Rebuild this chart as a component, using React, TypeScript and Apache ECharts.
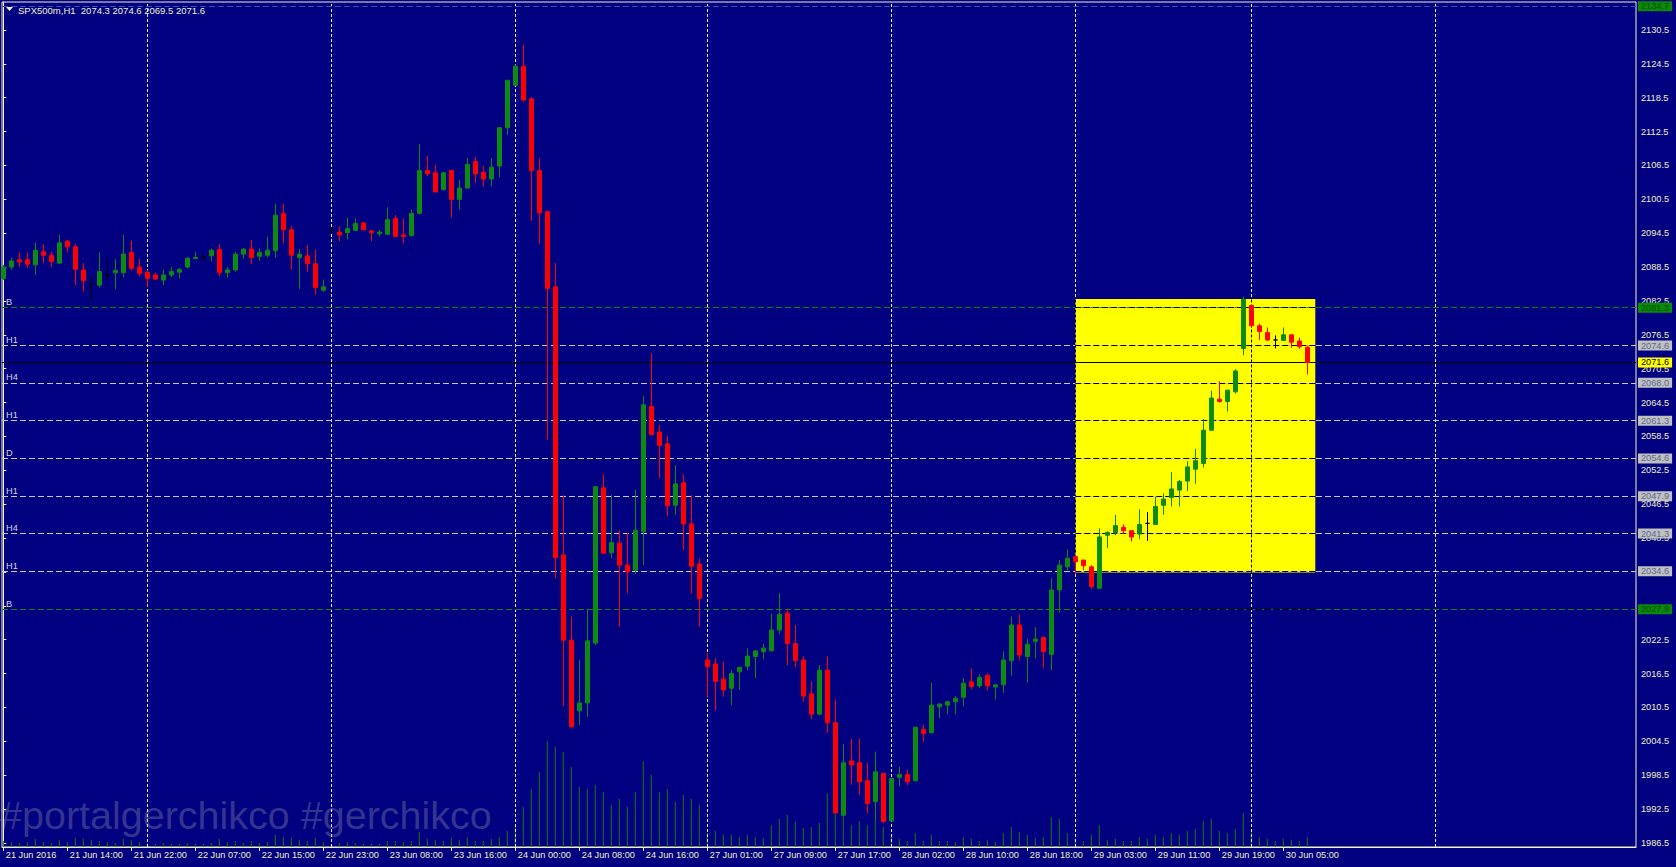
import React, { useEffect, useRef } from 'react';
import * as echarts from 'echarts';

// [open, high, low, close] per H1 bar
const candles: number[][] = [
  [2086.5, 2088.9, 2086.2, 2088.5], [2088.5, 2090.2, 2088.0, 2089.6], [2089.8, 2091.1, 2088.5, 2089.4], [2089.8, 2091.1, 2088.3, 2089.0],
  [2088.9, 2092.8, 2087.1, 2091.5], [2091.2, 2092.6, 2089.2, 2090.6], [2090.6, 2091.2, 2088.5, 2089.5], [2089.2, 2094.2, 2089.2, 2092.8],
  [2093.1, 2093.3, 2091.1, 2092.1], [2092.1, 2092.6, 2085.3, 2088.1], [2088.0, 2089.2, 2084.2, 2086.1], [2085.5, 2086.8, 2082.5, 2085.5],
  [2085.3, 2091.1, 2084.9, 2087.7], [2087.1, 2090.3, 2086.2, 2087.1], [2087.5, 2089.9, 2084.6, 2087.9], [2087.5, 2094.2, 2086.7, 2090.8],
  [2091.1, 2093.2, 2087.9, 2088.3], [2088.5, 2090.0, 2086.8, 2087.4], [2087.6, 2088.0, 2085.0, 2086.5], [2087.1, 2087.5, 2086.2, 2086.4],
  [2086.2, 2088.1, 2085.3, 2087.1], [2087.1, 2088.5, 2086.7, 2087.7], [2087.6, 2088.3, 2086.5, 2088.1], [2088.5, 2090.2, 2088.3, 2090.1],
  [2090.0, 2091.2, 2089.9, 2090.2], [2090.2, 2090.8, 2089.5, 2090.2], [2090.5, 2091.8, 2089.5, 2091.5], [2091.6, 2092.6, 2086.9, 2087.5],
  [2087.5, 2088.5, 2086.6, 2088.0], [2088.0, 2091.2, 2087.7, 2090.8], [2090.8, 2091.8, 2090.0, 2091.7], [2091.7, 2093.3, 2089.0, 2090.2],
  [2090.4, 2091.8, 2089.6, 2091.1], [2090.6, 2093.9, 2090.2, 2091.5], [2091.4, 2099.7, 2090.2, 2097.7], [2098.0, 2099.7, 2092.7, 2095.1],
  [2095.1, 2095.8, 2088.0, 2090.6], [2090.2, 2091.7, 2084.6, 2090.8], [2090.5, 2092.4, 2087.7, 2089.1], [2089.1, 2091.6, 2083.6, 2084.9],
  [2084.4, 2086.3, 2084.1, 2085.0], [2095.1, 2095.6, 2094.5, 2095.1], [2094.7, 2095.7, 2093.1, 2094.2], [2094.6, 2097.2, 2093.4, 2095.3],
  [2095.0, 2097.1, 2094.9, 2096.2], [2096.3, 2096.5, 2095.0, 2095.1], [2094.9, 2095.1, 2093.1, 2094.6], [2094.4, 2095.1, 2093.9, 2094.7],
  [2094.3, 2099.1, 2094.3, 2096.9], [2097.1, 2097.7, 2093.8, 2093.9], [2094.2, 2097.1, 2092.7, 2093.9], [2094.1, 2098.7, 2093.9, 2098.0],
  [2098.0, 2110.3, 2098.0, 2105.6], [2105.6, 2108.2, 2104.6, 2105.0], [2105.2, 2106.6, 2101.8, 2101.8], [2102.2, 2105.4, 2102.2, 2105.2],
  [2105.6, 2105.6, 2097.3, 2100.5], [2100.5, 2104.0, 2098.7, 2102.5], [2102.5, 2107.8, 2102.5, 2106.7], [2107.2, 2108.0, 2103.4, 2105.0],
  [2105.3, 2106.4, 2102.8, 2104.1], [2104.1, 2107.8, 2102.8, 2106.2], [2106.4, 2113.2, 2104.4, 2113.2], [2113.2, 2121.6, 2111.9, 2121.6],
  [2120.7, 2124.4, 2120.7, 2124.1], [2124.1, 2127.9, 2117.8, 2118.1], [2118.3, 2118.6, 2096.7, 2105.6], [2105.6, 2107.8, 2092.6, 2098.1],
  [2098.3, 2098.5, 2057.9, 2084.7], [2085.0, 2089.2, 2033.4, 2037.0], [2037.5, 2048.1, 2010.7, 2022.4], [2022.4, 2026.6, 2006.8, 2007.1],
  [2009.9, 2018.9, 2007.4, 2011.3], [2011.3, 2028.0, 2008.8, 2022.3], [2021.9, 2049.6, 2021.5, 2049.6], [2049.4, 2051.8, 2037.8, 2037.8],
  [2037.9, 2048.1, 2036.9, 2039.7], [2039.6, 2041.9, 2024.8, 2035.7], [2035.7, 2041.4, 2030.7, 2034.5], [2034.8, 2049.1, 2034.1, 2041.9],
  [2041.6, 2065.7, 2035.7, 2064.1], [2063.8, 2073.2, 2058.8, 2058.8], [2059.3, 2060.5, 2051.1, 2056.9], [2057.2, 2058.6, 2044.4, 2046.2],
  [2046.3, 2053.4, 2044.6, 2050.1], [2050.3, 2051.8, 2038.4, 2043.0], [2043.0, 2048.1, 2030.7, 2035.5], [2035.9, 2036.9, 2024.8, 2029.8],
  [2018.9, 2020.1, 2012.4, 2017.7], [2018.2, 2019.2, 2010.0, 2015.1], [2015.5, 2018.6, 2012.4, 2013.6], [2013.9, 2017.1, 2010.9, 2016.5],
  [2016.8, 2017.7, 2013.6, 2017.6], [2017.8, 2021.0, 2017.1, 2019.6], [2019.5, 2020.7, 2015.7, 2020.5], [2020.4, 2021.8, 2019.0, 2021.0],
  [2020.5, 2027.1, 2020.5, 2024.2], [2024.2, 2030.7, 2023.5, 2027.0], [2027.2, 2028.0, 2018.0, 2021.8], [2021.8, 2025.1, 2017.6, 2018.8],
  [2018.9, 2019.6, 2011.5, 2012.5], [2012.9, 2015.1, 2008.4, 2009.3], [2009.3, 2018.0, 2009.1, 2017.1], [2017.1, 2019.5, 2006.0, 2007.8],
  [2007.8, 2011.9, 1991.8, 1991.8], [1991.4, 2004.0, 1991.3, 2000.7], [2001.0, 2005.0, 1996.8, 2000.3], [2000.7, 2005.0, 1995.0, 1997.3],
  [1997.5, 2000.7, 1991.7, 1993.5], [1993.8, 2002.7, 1990.6, 1999.1], [1998.8, 1998.9, 1990.0, 1990.3], [1990.4, 1998.1, 1990.3, 1997.9],
  [1998.1, 2000.0, 1996.5, 1998.6], [1998.6, 1999.4, 1996.7, 1997.3], [1997.5, 2007.0, 1997.5, 2007.0], [2006.6, 2007.4, 2004.4, 2005.9],
  [2006.0, 2014.9, 2006.0, 2010.9], [2010.6, 2011.2, 2008.6, 2011.1], [2010.9, 2011.7, 2009.3, 2011.5], [2011.5, 2012.5, 2009.3, 2012.1],
  [2012.3, 2015.7, 2010.7, 2014.8], [2015.0, 2017.4, 2013.7, 2014.2], [2014.3, 2016.4, 2013.9, 2015.8], [2016.2, 2016.5, 2013.5, 2014.3],
  [2014.1, 2014.6, 2011.9, 2014.5], [2014.5, 2020.4, 2013.1, 2018.9], [2018.8, 2026.6, 2016.1, 2025.1], [2025.1, 2027.0, 2018.8, 2019.8],
  [2019.5, 2022.6, 2014.9, 2021.7], [2022.2, 2024.7, 2019.2, 2022.6], [2022.9, 2023.1, 2017.4, 2020.4], [2019.9, 2033.4, 2017.1, 2031.3],
  [2031.3, 2036.6, 2027.3, 2035.7], [2035.4, 2038.5, 2034.8, 2036.9], [2037.2, 2037.5, 2034.1, 2036.3], [2036.6, 2036.6, 2034.8, 2035.6],
  [2035.4, 2035.7, 2031.5, 2031.9], [2031.6, 2042.2, 2031.6, 2040.7], [2041.0, 2041.7, 2038.7, 2041.5], [2041.5, 2044.6, 2041.0, 2042.7],
  [2042.4, 2042.9, 2041.2, 2041.8], [2041.8, 2041.9, 2039.9, 2040.7], [2041.2, 2045.6, 2040.3, 2042.9], [2043.1, 2045.1, 2040.0, 2043.1],
  [2042.9, 2047.8, 2042.8, 2046.1], [2046.3, 2048.4, 2044.6, 2047.4], [2047.7, 2052.2, 2046.1, 2049.2], [2049.0, 2050.8, 2046.1, 2050.5],
  [2050.6, 2054.1, 2048.8, 2053.1], [2052.7, 2056.3, 2050.1, 2054.2], [2053.7, 2061.6, 2053.0, 2059.6], [2059.6, 2066.6, 2059.5, 2065.3],
  [2065.1, 2068.3, 2064.5, 2064.7], [2064.7, 2066.7, 2062.9, 2066.7], [2066.4, 2070.4, 2066.1, 2070.1], [2074.1, 2083.3, 2072.9, 2082.8],
  [2081.7, 2081.8, 2077.7, 2078.1], [2078.1, 2078.5, 2075.6, 2077.1], [2076.9, 2077.8, 2075.4, 2075.6], [2075.6, 2076.4, 2074.1, 2075.6],
  [2075.5, 2077.8, 2075.5, 2076.5], [2076.5, 2076.6, 2074.2, 2075.2], [2075.4, 2076.0, 2074.0, 2074.4], [2074.3, 2074.6, 2069.5, 2071.6],
];

// tick volumes (relative units)
const volumes: number[] = [
  6, 5, 4, 5, 8, 5, 4, 7, 5, 9, 8, 7, 6, 5, 4, 8, 7, 5, 4, 3, 4, 3, 3, 4, 3, 3, 4, 8, 5, 6, 4, 6, 4, 5, 12, 10, 9, 7, 6, 9, 5,
  3, 4, 5, 4, 3, 3, 3, 6, 6, 5, 6, 15, 8, 7, 6, 9, 7, 10, 6, 6, 8,
  10, 16, 22, 40, 58, 75, 106, 100, 95, 80, 60, 58, 62, 55, 42, 48, 40, 55, 86, 72, 55, 58, 45, 52, 48, 42,
  14, 16, 12, 12, 10, 12, 10, 9, 22, 28, 32, 25, 19, 20, 24, 54, 60, 36, 22, 26, 22, 28, 20,
  12, 8, 6, 14, 6, 12, 6, 6, 5, 10, 8, 6, 7, 5, 14, 20, 15, 12, 9, 10, 30, 28, 14,
  8, 6, 12, 22, 7, 8, 6, 6, 10, 8, 12, 10, 14, 12, 16, 18, 26, 28, 16, 14, 18, 34, 16, 10, 8, 6, 8, 7, 6, 10,
];

const timeTickLabels: string[] = [
  '21 Jun 2016', '21 Jun 14:00', '21 Jun 22:00', '22 Jun 07:00', '22 Jun 15:00', '22 Jun 23:00', '23 Jun 08:00',
  '23 Jun 16:00', '24 Jun 00:00', '24 Jun 08:00', '24 Jun 16:00', '27 Jun 01:00', '27 Jun 09:00', '27 Jun 17:00',
  '28 Jun 02:00', '28 Jun 10:00', '28 Jun 18:00', '29 Jun 03:00', '29 Jun 11:00', '29 Jun 19:00', '30 Jun 05:00',
];
const barsPerTimeTick = 8;

const priceTicks: number[] = [
  1986.5, 1992.5, 1998.5, 2004.5, 2010.5, 2016.5, 2022.5, 2028.5, 2034.5, 2040.5, 2046.5, 2052.5, 2058.5,
  2064.5, 2070.5, 2076.5, 2082.5, 2088.5, 2094.5, 2100.5, 2106.5, 2112.5, 2118.5, 2124.5, 2130.5,
];
// tick labels that are fully covered by level boxes in the reference
const hiddenPriceLabels: number[] = [2028.5, 2034.5];

const levelPrices: number[] = [2081.3, 2074.6, 2068.0, 2061.3, 2054.6, 2047.9, 2041.3, 2034.6, 2027.9];
const levelNames: string[] = ['B', 'H1', 'H4', 'H1', 'D', 'H1', 'H4', 'H1', 'B'];
const dayBreakBars: number[] = [18, 41, 64, 88, 111, 134, 156, 179];
const boxBars: number[] = [134, 164];
const boxPrices: number[] = [2034.4, 2082.85];
const lastPrice = 2071.6;
const topMarkPrice = 2134.7;
const headerText = 'SPX500m,H1  2074.3 2074.6 2069.5 2071.6';
const watermark = '#portalgerchikco #gerchikco';

const BG = '#000080';
const FG = '#F2F2C8';
const BULL = '#0C8A12';
const BEAR = '#FF0000';
const VOL = '#0A7E0A';
const LEVEL = '#C8C8D8';
const LEVEL_B = '#0A8A0A';
const GRIDV = '#E6E6E6';
const FONT = '"Liberation Sans", Arial, sans-serif';

const X_MIN = -0.1625;
const X_MAX = X_MIN + 1634 / 8;
const Y_MIN = 1985.77;
const Y_MAX = 2135.46;

export default function App() {
  const ref = useRef<HTMLDivElement>(null);

  useEffect(() => {
    if (!ref.current) return;
    const chart = echarts.init(ref.current, null, { renderer: 'svg' });

    const candleData = candles.map((c, i) => {
      const [o, h, l, cl] = c;
      const item: any = { value: [i, o, cl, l, h] };
      if (o === cl) {
        item.itemStyle = { color: '#000000', color0: '#000000', borderColor: '#000000', borderColor0: '#000000' };
      }
      return item;
    });
    const volData = volumes.map((v, i) => [i, v]);

    const isB = (n: string) => n === 'B';

    const levelLines: any[] = [];
    levelPrices.forEach((p, k) => {
      const b = isB(levelNames[k]);
      levelLines.push({
        yAxis: p,
        lineStyle: { color: b ? LEVEL_B : LEVEL, type: [6, 3], width: 1 },
        label: {
          show: true, position: 'end', distance: 2, formatter: p.toFixed(1),
          backgroundColor: b ? '#0A8A0A' : '#C0C0C0', color: b ? '#064F06' : '#5A6894',
          padding: [1, 3, 0, 3], fontSize: 9.2, fontFamily: FONT,
        },
      });
      levelLines.push({
        yAxis: p,
        lineStyle: { color: 'rgba(0,0,0,0)', width: 1 },
        label: {
          show: true, position: 'insideStartTop', distance: [4, 1], formatter: levelNames[k],
          color: '#D8D8D8', fontSize: 9.2, fontFamily: FONT, opacity: 1,
        },
      });
      levelLines.push([
        { coord: [boxBars[0], p], lineStyle: { color: '#000000', type: [6, 3], width: 1 }, label: { show: false } },
        { coord: [boxBars[1], p] },
      ]);
    });
    levelLines.push({
      yAxis: topMarkPrice,
      lineStyle: { color: '#3050B0', type: [6, 3], width: 1 },
      label: {
        show: true, position: 'end', distance: 2, formatter: topMarkPrice.toFixed(1),
        backgroundColor: '#0A8A0A', color: '#064F06', padding: [1, 3, 0, 3], fontSize: 9.2, fontFamily: FONT,
      },
    });
    levelLines.push({
      yAxis: lastPrice,
      lineStyle: { color: '#000000', type: 'solid', width: 1 },
      label: {
        show: true, position: 'end', distance: 2, formatter: lastPrice.toFixed(1),
        backgroundColor: '#FFFF00', color: '#000000', padding: [1, 3, 0, 3], fontSize: 9.2, fontFamily: FONT,
      },
    });

    const gridLines: any[] = [];
    dayBreakBars.forEach((b) => {
      gridLines.push({ xAxis: b, lineStyle: { color: GRIDV, type: [3, 2], width: 1 }, label: { show: false } });
      if (b >= boxBars[0] && b <= boxBars[1]) {
        gridLines.push([
          { coord: [b, boxPrices[0]], lineStyle: { color: '#000000', type: [3, 2], width: 1 }, label: { show: false } },
          { coord: [b, boxPrices[1]] },
        ]);
      }
    });

    const option: any = {
      animation: false,
      backgroundColor: BG,
      textStyle: { fontFamily: FONT },
      grid: [{
        left: 2, top: 2, width: 1634, height: 845, show: true,
        borderColor: FG, borderWidth: 1, backgroundColor: 'transparent',
      }],
      xAxis: [{
        type: 'value', min: X_MIN, max: X_MAX,
        axisLine: { show: true, lineStyle: { color: FG } },
        splitLine: { show: false },
        axisTick: {
          show: true, length: 4,
          customValues: timeTickLabels.map((_, k) => k * barsPerTimeTick),
          lineStyle: { color: FG },
        },
        axisLabel: {
          show: true, margin: 3, align: 'left', color: FG, fontSize: 9.2, fontFamily: FONT,
          customValues: timeTickLabels.map((_, k) => k * barsPerTimeTick),
          formatter: (v: number) => ' ' + (timeTickLabels[Math.round(v / barsPerTimeTick)] ?? ''),
        },
      }],
      yAxis: [{
        type: 'value', position: 'right', min: Y_MIN, max: Y_MAX,
        axisLine: { show: true, lineStyle: { color: FG } },
        splitLine: { show: false },
        axisTick: { show: true, length: 3, customValues: priceTicks, lineStyle: { color: FG } },
        axisLabel: {
          show: true, margin: 5, color: FG, fontSize: 9.2, fontFamily: FONT,
          customValues: priceTicks.filter((v) => !hiddenPriceLabels.includes(v)),
          formatter: (v: number) => v.toFixed(1),
        },
      }, {
        type: 'value', min: 0, max: 845, show: false,
      }],
      series: [
        {
          type: 'line', data: [], z: 1, silent: true,
          markArea: {
            silent: true,
            itemStyle: { color: '#FFFF00', opacity: 1 },
            data: [[{ coord: [boxBars[0], boxPrices[1]] }, { coord: [boxBars[1], boxPrices[0]] }]],
          },
        },
        {
          type: 'line', data: [], z: 2, silent: true,
          markLine: { silent: true, symbol: ['none', 'none'], animation: false, data: gridLines },
        },
        {
          type: 'bar', data: volData, yAxisIndex: 1, barWidth: 1, z: 3, silent: true,
          itemStyle: { color: VOL },
        },
        {
          type: 'line', data: [], z: 4, silent: true,
          markLine: { silent: true, symbol: ['none', 'none'], animation: false, data: levelLines },
        },
        {
          type: 'candlestick', data: candleData, z: 5, barWidth: 4, silent: true,
          encode: { x: 0, y: [1, 2, 3, 4] },
          itemStyle: { color: BULL, color0: BEAR, borderColor: BULL, borderColor0: BEAR, borderWidth: 1 },
        },
      ],
      graphic: [
        {
          type: 'polygon', z: 100,
          shape: { points: [[6, 7], [13, 7], [9.5, 11]] },
          style: { fill: FG },
        },
        {
          type: 'text', z: 100, left: 18, top: 5,
          style: { text: headerText, fill: FG, font: `9.5px ${FONT}` },
        },
        {
          type: 'text', z: 0, left: 0, top: 795,
          style: { text: watermark, fill: 'rgba(150,150,175,0.36)', font: `39.5px ${FONT}` },
        },
      ],
    };

    chart.setOption(option);
    return () => chart.dispose();
  }, []);

  return (
    <div
      ref={ref}
      style={{ position: 'absolute', left: 0, top: 0, width: 1676, height: 867, background: BG }}
    />
  );
}
